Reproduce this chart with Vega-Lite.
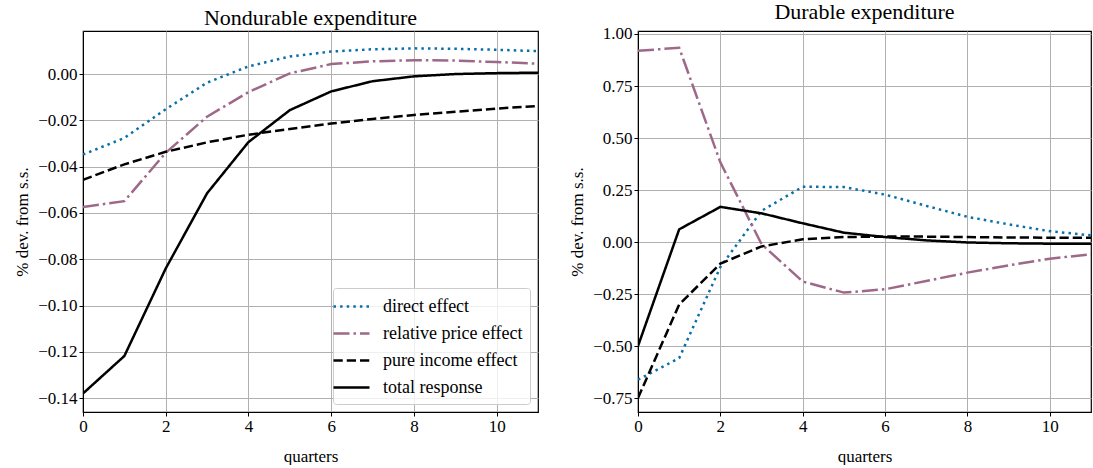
{
  "$schema": "https://vega.github.io/schema/vega-lite/v6.json",
  "padding": {"left": 13, "top": 0, "right": 2, "bottom": 0},
  "background": "white",
  "config": {
    "font": "Liberation Serif",
    "view": {"stroke": "black", "strokeWidth": 1.2},
    "axis": {
      "labelFont": "Liberation Serif", "titleFont": "Liberation Serif",
      "labelFontSize": 17, "titleFontSize": 17, "titleFontWeight": "normal",
      "labelColor": "black", "titleColor": "black",
      "domainColor": "black", "tickColor": "black", "tickSize": 4,
      "gridColor": "#b0b0b0", "gridWidth": 1, "gridOpacity": 1
    },
    "axisY": {"titlePadding": 6, "labelFont": "Liberation Serif"},
    "axisX": {"titlePadding": 14, "labelFont": "Liberation Serif"},
    "title": {"font": "Liberation Serif", "fontSize": 22, "fontWeight": "normal", "color": "black", "offset": 1},
    "legend": {"labelFont": "Liberation Serif", "labelFontSize": 18, "labelColor": "black"}
  },
  "data": {"values": [
    {"panel":"N","series":"direct effect","q":0,"v":-0.0348},
    {"panel":"N","series":"direct effect","q":1,"v":-0.0276},
    {"panel":"N","series":"direct effect","q":2,"v":-0.0152},
    {"panel":"N","series":"direct effect","q":3,"v":-0.0037},
    {"panel":"N","series":"direct effect","q":4,"v":0.0033},
    {"panel":"N","series":"direct effect","q":5,"v":0.0076},
    {"panel":"N","series":"direct effect","q":6,"v":0.0097},
    {"panel":"N","series":"direct effect","q":7,"v":0.0107},
    {"panel":"N","series":"direct effect","q":8,"v":0.0111},
    {"panel":"N","series":"direct effect","q":9,"v":0.0109},
    {"panel":"N","series":"direct effect","q":10,"v":0.0105},
    {"panel":"N","series":"direct effect","q":11,"v":0.0099},
    {"panel":"N","series":"relative price effect","q":0,"v":-0.0574},
    {"panel":"N","series":"relative price effect","q":1,"v":-0.0549},
    {"panel":"N","series":"relative price effect","q":2,"v":-0.0340},
    {"panel":"N","series":"relative price effect","q":3,"v":-0.0184},
    {"panel":"N","series":"relative price effect","q":4,"v":-0.0078},
    {"panel":"N","series":"relative price effect","q":5,"v":0.0003},
    {"panel":"N","series":"relative price effect","q":6,"v":0.0043},
    {"panel":"N","series":"relative price effect","q":7,"v":0.0055},
    {"panel":"N","series":"relative price effect","q":8,"v":0.0060},
    {"panel":"N","series":"relative price effect","q":9,"v":0.0058},
    {"panel":"N","series":"relative price effect","q":10,"v":0.0052},
    {"panel":"N","series":"relative price effect","q":11,"v":0.0045},
    {"panel":"N","series":"pure income effect","q":0,"v":-0.0457},
    {"panel":"N","series":"pure income effect","q":1,"v":-0.0390},
    {"panel":"N","series":"pure income effect","q":2,"v":-0.0336},
    {"panel":"N","series":"pure income effect","q":3,"v":-0.0295},
    {"panel":"N","series":"pure income effect","q":4,"v":-0.0262},
    {"panel":"N","series":"pure income effect","q":5,"v":-0.0237},
    {"panel":"N","series":"pure income effect","q":6,"v":-0.0214},
    {"panel":"N","series":"pure income effect","q":7,"v":-0.0194},
    {"panel":"N","series":"pure income effect","q":8,"v":-0.0177},
    {"panel":"N","series":"pure income effect","q":9,"v":-0.0163},
    {"panel":"N","series":"pure income effect","q":10,"v":-0.0149},
    {"panel":"N","series":"pure income effect","q":11,"v":-0.0138},
    {"panel":"N","series":"total response","q":0,"v":-0.1380},
    {"panel":"N","series":"total response","q":1,"v":-0.1218},
    {"panel":"N","series":"total response","q":2,"v":-0.0840},
    {"panel":"N","series":"total response","q":3,"v":-0.0515},
    {"panel":"N","series":"total response","q":4,"v":-0.0294},
    {"panel":"N","series":"total response","q":5,"v":-0.0156},
    {"panel":"N","series":"total response","q":6,"v":-0.0075},
    {"panel":"N","series":"total response","q":7,"v":-0.0031},
    {"panel":"N","series":"total response","q":8,"v":-0.0010},
    {"panel":"N","series":"total response","q":9,"v":0.0000},
    {"panel":"N","series":"total response","q":10,"v":0.0004},
    {"panel":"N","series":"total response","q":11,"v":0.0006},
    {"panel":"D","series":"direct effect","q":0,"v":-0.662},
    {"panel":"D","series":"direct effect","q":1,"v":-0.558},
    {"panel":"D","series":"direct effect","q":2,"v":-0.120},
    {"panel":"D","series":"direct effect","q":3,"v":0.150},
    {"panel":"D","series":"direct effect","q":4,"v":0.266},
    {"panel":"D","series":"direct effect","q":5,"v":0.264},
    {"panel":"D","series":"direct effect","q":6,"v":0.228},
    {"panel":"D","series":"direct effect","q":7,"v":0.174},
    {"panel":"D","series":"direct effect","q":8,"v":0.121},
    {"panel":"D","series":"direct effect","q":9,"v":0.085},
    {"panel":"D","series":"direct effect","q":10,"v":0.052},
    {"panel":"D","series":"direct effect","q":11,"v":0.032},
    {"panel":"D","series":"relative price effect","q":0,"v":0.919},
    {"panel":"D","series":"relative price effect","q":1,"v":0.934},
    {"panel":"D","series":"relative price effect","q":2,"v":0.383},
    {"panel":"D","series":"relative price effect","q":3,"v":-0.010},
    {"panel":"D","series":"relative price effect","q":4,"v":-0.190},
    {"panel":"D","series":"relative price effect","q":5,"v":-0.243},
    {"panel":"D","series":"relative price effect","q":6,"v":-0.227},
    {"panel":"D","series":"relative price effect","q":7,"v":-0.187},
    {"panel":"D","series":"relative price effect","q":8,"v":-0.147},
    {"panel":"D","series":"relative price effect","q":9,"v":-0.112},
    {"panel":"D","series":"relative price effect","q":10,"v":-0.080},
    {"panel":"D","series":"relative price effect","q":11,"v":-0.059},
    {"panel":"D","series":"pure income effect","q":0,"v":-0.750},
    {"panel":"D","series":"pure income effect","q":1,"v":-0.300},
    {"panel":"D","series":"pure income effect","q":2,"v":-0.104},
    {"panel":"D","series":"pure income effect","q":3,"v":-0.021},
    {"panel":"D","series":"pure income effect","q":4,"v":0.013},
    {"panel":"D","series":"pure income effect","q":5,"v":0.024},
    {"panel":"D","series":"pure income effect","q":6,"v":0.026},
    {"panel":"D","series":"pure income effect","q":7,"v":0.026},
    {"panel":"D","series":"pure income effect","q":8,"v":0.024},
    {"panel":"D","series":"pure income effect","q":9,"v":0.022},
    {"panel":"D","series":"pure income effect","q":10,"v":0.021},
    {"panel":"D","series":"pure income effect","q":11,"v":0.020},
    {"panel":"D","series":"total response","q":0,"v":-0.500},
    {"panel":"D","series":"total response","q":1,"v":0.061},
    {"panel":"D","series":"total response","q":2,"v":0.169},
    {"panel":"D","series":"total response","q":3,"v":0.138},
    {"panel":"D","series":"total response","q":4,"v":0.090},
    {"panel":"D","series":"total response","q":5,"v":0.045},
    {"panel":"D","series":"total response","q":6,"v":0.024},
    {"panel":"D","series":"total response","q":7,"v":0.008},
    {"panel":"D","series":"total response","q":8,"v":-0.002},
    {"panel":"D","series":"total response","q":9,"v":-0.006},
    {"panel":"D","series":"total response","q":10,"v":-0.008},
    {"panel":"D","series":"total response","q":11,"v":-0.008}
  ]},
  "hconcat": [
    {
      "title": "Nondurable expenditure",
      "width": 455, "height": 381,
      "transform": [{"filter": "datum.panel === 'N'"}],
      "mark": {"type": "line", "strokeWidth": 2.5, "clip": true},
      "encoding": {
        "x": {"field": "q", "type": "quantitative", "title": "quarters",
              "scale": {"domain": [0, 11], "nice": false, "zero": false},
              "axis": {"values": [0, 2, 4, 6, 8, 10], "format": "d", "labelFlush": false, "labelFont": "Liberation Serif"}},
        "y": {"field": "v", "type": "quantitative", "title": "% dev. from s.s.",
              "scale": {"domain": [-0.146, 0.0186], "nice": false, "zero": false},
              "axis": {"values": [0, -0.02, -0.04, -0.06, -0.08, -0.1, -0.12, -0.14], "format": ".2f", "labelFlush": false, "labelFont": "Liberation Serif"}},
        "color": {"field": "series", "type": "nominal",
                  "scale": {"domain": ["direct effect", "relative price effect", "pure income effect", "total response"],
                            "range": ["#0a6fa8", "#9e6888", "#000000", "#000000"]},
                  "legend": {"title": null, "orient": "bottom-right", "offset": 8, "symbolType": "M-1.8,0L1.8,0", "symbolSize": 400, "symbolStrokeWidth": 2.5,
                             "fillColor": "rgba(255,255,255,0.8)", "strokeColor": "#cccccc", "cornerRadius": 3, "padding": 7, "rowPadding": 6, "labelOffset": 20}},
        "strokeDash": {"field": "series", "type": "nominal",
                  "scale": {"domain": ["direct effect", "relative price effect", "pure income effect", "total response"],
                            "range": [[2.5, 4.1], [16, 4, 2.5, 4], [9.25, 4], [1, 0]]},
                  "legend": null}
      }
    },
    {
      "title": "Durable expenditure",
      "width": 453, "height": 381,
      "transform": [{"filter": "datum.panel === 'D'"}],
      "mark": {"type": "line", "strokeWidth": 2.5, "clip": true},
      "encoding": {
        "x": {"field": "q", "type": "quantitative", "title": "quarters",
              "scale": {"domain": [0, 11], "nice": false, "zero": false},
              "axis": {"values": [0, 2, 4, 6, 8, 10], "format": "d", "labelFlush": false, "labelFont": "Liberation Serif"}},
        "y": {"field": "v", "type": "quantitative", "title": "% dev. from s.s.",
              "scale": {"domain": [-0.817, 1.0144], "nice": false, "zero": false},
              "axis": {"values": [1, 0.75, 0.5, 0.25, 0, -0.25, -0.5, -0.75], "format": ".2f", "labelFlush": false, "labelFont": "Liberation Serif"}},
        "color": {"field": "series", "type": "nominal",
                  "scale": {"domain": ["direct effect", "relative price effect", "pure income effect", "total response"],
                            "range": ["#0a6fa8", "#9e6888", "#000000", "#000000"]},
                  "legend": null},
        "strokeDash": {"field": "series", "type": "nominal",
                  "scale": {"domain": ["direct effect", "relative price effect", "pure income effect", "total response"],
                            "range": [[2.5, 4.1], [16, 4, 2.5, 4], [9.25, 4], [1, 0]]},
                  "legend": null}
      }
    }
  ],
  "spacing": 29,
  "resolve": {"scale": {"color": "independent", "strokeDash": "independent", "x": "independent", "y": "independent"}, "legend": {"color": "independent", "strokeDash": "independent"}}
}
